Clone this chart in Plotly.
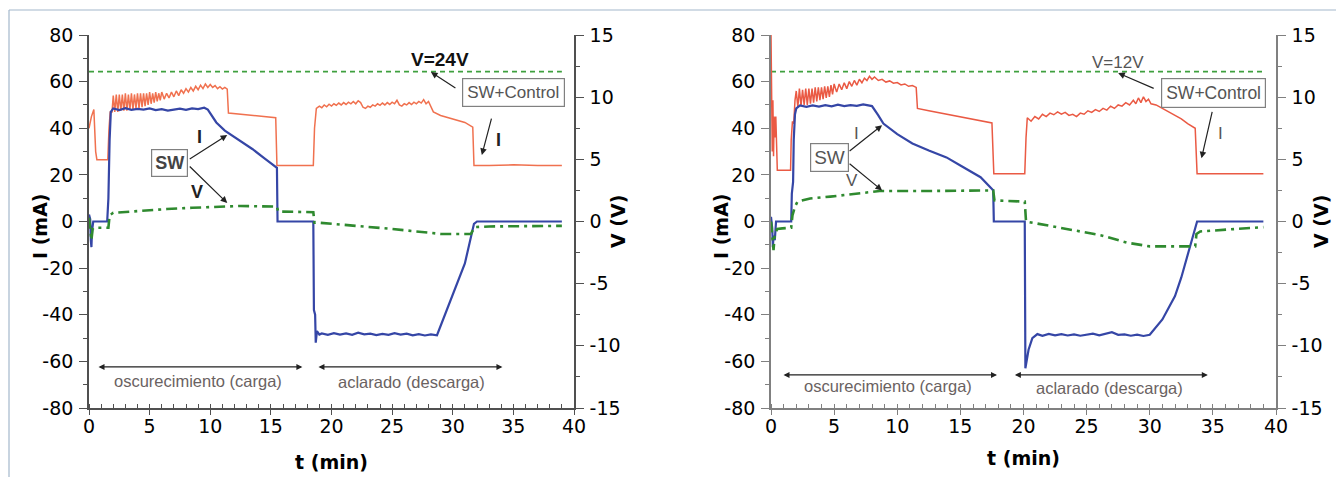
import plotly.graph_objects as go

W, H = 1336, 477

# ---------------- DATA: left panel (V=24V) ----------------
t_blue_L = [0, 0.1, 0.15, 0.2, 0.25, 0.3, 0.35, 1.5, 1.6, 1.7, 1.8,
            2.0, 2.5, 3.0, 3.5, 4.0, 4.5, 5.0, 5.5, 6.0, 6.5, 7.0, 7.5, 8.0, 8.5, 9.0, 9.5, 9.8,
            10.0, 10.5, 11.2, 12.4, 13.5, 14.5, 15.5, 15.55, 18.5, 18.55, 18.65, 18.7, 18.8, 19.0,
            19.2, 19.7, 20.2, 20.7, 21.2, 21.7, 22.2, 22.7, 23.2, 23.7, 24.2, 24.7, 25.2, 25.7,
            26.2, 26.7, 27.2, 27.7, 28.2, 28.7, 29.5, 30.3, 31.0, 31.75, 32.0, 39.0]
I_blue_L = [3, 1, -8, -11, -4, -2, 0, 0, 10, 35, 47,
            48.5, 47.8, 48.6, 47.9, 48.3, 48.0, 48.5, 47.8, 48.2, 47.6, 48.0, 48.4, 47.9, 48.5, 48.2, 48.8, 48.0,
            46.5, 42.5, 39.0, 35.0, 31.0, 27.0, 23.0, 0, 0, -38, -40, -52, -47, -48.5,
            -48.0, -48.6, -47.9, -48.5, -48.0, -48.6, -47.7, -48.4, -48.1, -48.7, -48.2, -48.6, -47.9, -48.5,
            -48.1, -48.8, -48.3, -48.9, -48.4, -48.8, -38.0, -28.0, -18.0, -1.0, 0, 0]

t_red_L = [0, 0.2, 0.4, 0.55, 0.65, 1.55, 1.65, 1.75, 1.9,
           2.0, 2.125, 2.25, 2.375, 2.5, 2.625, 2.75, 2.875, 3.0, 3.125, 3.25, 3.375, 3.5, 3.625, 3.75, 3.875,
           4.0, 4.125, 4.25, 4.375, 4.5, 4.625, 4.75, 4.875, 5.0, 5.125, 5.25, 5.375, 5.5, 5.625, 5.75, 5.875, 6.0,
           6.2, 6.4, 6.6, 6.8, 7.0, 7.2, 7.4, 7.6, 7.8, 8.0, 8.2, 8.4, 8.6, 8.8, 9.0, 9.2, 9.4, 9.6, 9.8,
           10.0, 10.2, 10.4, 10.6, 10.8, 11.0, 11.2, 11.4, 11.5, 15.4, 15.5, 18.5, 18.6, 18.75,
           19.0, 19.2, 19.4, 19.6, 19.8, 20.0, 20.2, 20.4, 20.6, 20.8, 21.0, 21.2, 21.4, 21.6, 21.8, 22.0,
           22.2, 22.4, 22.6, 22.8, 23.0, 23.2, 23.4, 23.6, 23.8, 24.0, 24.2, 24.4, 24.6, 24.8, 25.0, 25.2,
           25.4, 25.6, 25.8, 26.0, 26.2, 26.4, 26.6, 26.8, 27.0, 27.2, 27.4, 27.6, 27.8, 28.0, 28.2, 28.4,
           29.0, 30.0, 31.0, 31.65, 31.75, 33.0, 35.0, 37.0, 39.0]
I_red_L = [40, 45, 48, 30, 26.5, 26.5, 40, 47, 47,
           54, 47, 54.5, 47, 54.5, 47.5, 54.5, 47.5, 55, 47.5, 54.5, 48, 55, 48, 54.5, 48.5,
           55, 48.5, 55, 49, 55, 49.5, 55, 50, 55.5, 50.5, 55, 51, 55.5, 51.5, 55, 52, 55.5,
           52.5, 55, 53, 55.5, 53.5, 56, 54, 56.5, 55, 57, 55.5, 57.5, 56, 58, 56.5, 58.5, 57, 59, 57.5,
           58.8, 57.5, 58.3, 57, 57.8, 56.8, 57.5, 56.8, 46.5, 44.5, 24, 24, 40, 48.5,
           49.5, 48.8, 50, 49.2, 50.3, 49.5, 50.5, 49.8, 50.8, 50, 51, 50.2, 51.2, 50.5, 51.5, 50.5,
           51.8, 51, 49, 48.5, 49.5, 49, 50, 49.5, 50.5, 49.8, 50.8, 50, 51, 50.2, 51.2, 50.5,
           52, 50, 49.5, 50.5, 50, 51, 50.2, 51.2, 50.5, 51.5, 50.8, 52.3, 50.5, 51.5, 49.5, 47,
           45.5, 44, 42.5, 40.5, 24, 24, 24.3, 24, 24]

t_V_L = [0, 0.1, 0.2, 0.3, 0.4, 1.6, 1.7, 2.0, 4.0, 6.4, 8.5, 10.5, 12.5, 15.5, 15.6, 18.5, 18.6,
         19.0, 21.0, 23.0, 25.0, 27.0, 29.0, 31.5, 31.8, 33.0, 36.0, 39.0]
V_L = [0.3, -0.8, -1.5, -0.6, -0.5, -0.5, 0.5, 0.7, 0.85, 1.0, 1.1, 1.2, 1.25, 1.2, 0.8, 0.75, -0.1,
       -0.1, -0.25, -0.4, -0.6, -0.8, -1.0, -1.0, -0.45, -0.4, -0.38, -0.35]

# ---------------- DATA: right panel (V=12V) ----------------
t_blue_R = [0, 0.1, 0.15, 0.2, 0.3, 0.4, 1.6, 1.65, 1.75, 1.8, 1.9,
            2.0, 2.3, 2.8, 3.3, 3.8, 4.3, 4.8, 5.3, 5.8, 6.3, 6.8, 7.3, 7.8, 8.0,
            8.5, 8.9, 10.0, 11.2, 12.5, 13.9, 15.0, 16.6, 17.5, 17.6, 17.65, 20.1, 20.15, 20.4, 20.7,
            21.1, 21.5, 22.0, 22.5, 23.0, 23.5, 24.0, 24.5, 25.0, 25.5, 26.0, 26.5, 27.0, 27.5, 28.0,
            28.5, 29.0, 29.5, 30.0, 31.0, 32.0, 32.5, 33.0, 33.5, 33.75, 39.0]
I_blue_R = [2, -3, -11, -6, -8, 0, 0, 12, 17, 35, 46,
            48.5, 49.8, 49.2, 49.8, 49.3, 49.9, 49.4, 50.1, 49.5, 49.9, 49.6, 50.2, 49.6, 49.5,
            45.5, 42.0, 37.5, 33.5, 30.5, 27.5, 24.0, 19.0, 14.0, 13.3, 0, 0, -63, -55, -50,
            -48.3, -49.0, -48.2, -48.8, -48.3, -48.9, -48.4, -49.0, -48.6, -48.1, -48.8, -48.2, -47.5, -48.6, -48.4,
            -49.0, -48.5, -49.1, -48.6, -42.0, -32.0, -24.0, -14.0, -5.0, 0, 0]

t_red_R = [0, 0.05, 0.1, 0.15, 0.2, 0.25, 0.32, 0.38, 0.45, 0.5, 1.55, 1.6, 1.7, 1.8, 1.9,
           2.0, 2.125, 2.25, 2.375, 2.5, 2.625, 2.75, 2.875, 3.0, 3.125, 3.25, 3.375, 3.5, 3.625, 3.75, 3.875,
           4.0, 4.125, 4.25, 4.375, 4.5, 4.625, 4.75, 4.875, 5.0,
           5.2, 5.4, 5.6, 5.8, 6.0, 6.2, 6.4, 6.6, 6.8, 7.0, 7.2, 7.4, 7.6, 7.8, 8.0, 8.2,
           8.5, 8.8, 9.1, 9.4, 9.7, 10.0, 10.3, 10.6, 10.9, 11.2, 11.5, 11.6,
           12.5, 13.5, 14.5, 15.5, 16.5, 17.5, 17.65, 20.1, 20.2, 20.3,
           20.6, 20.9, 21.2, 21.5, 21.8, 22.1, 22.4, 22.7, 23.0, 23.3, 23.6, 23.9, 24.2, 24.5, 24.8, 25.1,
           25.4, 25.7, 26.0, 26.3, 26.6, 26.9, 27.2, 27.5, 27.8, 28.1, 28.4, 28.7, 28.9, 29.1, 29.3, 29.5,
           29.7, 29.9, 30.1, 30.5, 31.0, 31.5, 32.0, 32.5, 33.0, 33.6, 33.75, 39.0]
I_red_R = [80, 60, 30, 52, 28, 45, 36, 45, 30, 22, 22, 35, 43, 42, 52,
           56, 49, 57, 49.5, 56.5, 50, 57, 50, 57, 50.5, 57, 51, 57.5, 51.5, 57.5, 52,
           57.5, 52.5, 58, 53, 58, 53.5, 58.5, 54.5, 59,
           55.5, 59, 56.5, 59.5, 57, 60, 58, 60.5, 58.5, 61, 59.5, 61.5, 60.5, 62.3, 61, 62,
           60.5, 61, 59.8, 60.3, 59.3, 59.6, 58.6, 59, 58, 58.3, 57.5, 48.5,
           47.5, 46.5, 45.5, 44.5, 43.5, 42.3, 20.5, 20.5, 36, 44.5,
           43, 45, 44, 46, 45, 46.5, 45.8, 47, 46, 46.8, 45.5, 46, 45, 46.5, 46, 47.5,
           46.8, 48, 47.2, 48.5, 47.8, 49.5, 48.5, 50, 49.5, 51, 50, 52, 50.5, 53, 51, 53.5,
           51.5, 52.5, 50.5, 50, 48.5, 47, 45.5, 44, 42, 40, 20.5, 20.5]

t_V_R = [0, 0.1, 0.2, 0.3, 0.5, 0.9, 1.6, 1.7, 1.9, 2.1, 3.1, 4.7, 6.5, 8.6, 12.0, 15.0, 17.5, 17.6,
         17.7, 20.1, 20.2, 22.9, 26.1, 28.2, 30.0, 33.6, 33.7, 34.0, 36.0, 39.0]
V_R = [0, -1.5, -2.3, -1.0, -0.6, -0.55, -0.5, 0.5, 1.2, 1.6, 1.85, 2.0, 2.2, 2.45, 2.45, 2.45, 2.5, 2.5,
       1.7, 1.6, 0, -0.5, -1.1, -1.7, -2.0, -2.0, -1.0, -0.8, -0.65, -0.45]

# supply-voltage reference line (drawn at I-axis level)
t_supply = [0, 39]
I_supply = [64.3, 64.3]

x_ticks = [0, 5, 10, 15, 20, 25, 30, 35, 40]
x_ticktext = ["0", "5", "10", "15", "20", "25", "30", "35", "40"]
I_ticks = [-80, -60, -40, -20, 0, 20, 40, 60, 80]
I_ticktext = ["-80", "-60", "-40", "-20", "0", "20", "40", "60", "80"]
V_ticks = [-15, -10, -5, 0, 5, 10, 15]
V_ticktext = ["-15", "-10", "-5", "0", "5", "10", "15"]

# ---------------- STYLE ----------------
BLUE = "#3546a6"
RED_L = "#f0714f"
RED_R = "#ea5a44"
GREEN = "#2f8a2f"
GREEN_D = "#3fa03f"
TICKFONT = dict(family="DejaVu Sans", size=19, color="black")
ANN_FONT = "Liberation Sans"

def px(x):
    return x / W

def py(y):
    return 1 - y / H

fig = go.Figure()

panels = [
    dict(x="x", y="y", yv="y2", dom=[px(89), px(574)], red=RED_L,
         tb=t_blue_L, ib=I_blue_L, tr=t_red_L, ir=I_red_L, tv=t_V_L, vv=V_L),
    dict(x="x2", y="y3", yv="y4", dom=[px(771), px(1276)], red=RED_R,
         tb=t_blue_R, ib=I_blue_R, tr=t_red_R, ir=I_red_R, tv=t_V_R, vv=V_R),
]

for p in panels:
    fig.add_trace(go.Scatter(x=t_supply, y=I_supply, xaxis=p["x"], yaxis=p["y"], mode="lines",
                             line=dict(color=GREEN_D, width=1.6, dash="5px,4px"), showlegend=False))
    fig.add_trace(go.Scatter(x=p["tr"], y=p["ir"], xaxis=p["x"], yaxis=p["y"], mode="lines",
                             line=dict(color=p["red"], width=1.5), showlegend=False))
    fig.add_trace(go.Scatter(x=p["tv"], y=p["vv"], xaxis=p["x"], yaxis=p["yv"], mode="lines",
                             line=dict(color=GREEN, width=2.6, dash="11px,5px,3px,5px"), showlegend=False))
    fig.add_trace(go.Scatter(x=p["tb"], y=p["ib"], xaxis=p["x"], yaxis=p["y"], mode="lines",
                             line=dict(color=BLUE, width=2.2), showlegend=False))

ydom = [py(408), py(35)]

def xaxis_cfg(dom, anchor, lc):
    return dict(domain=dom, anchor=anchor, range=[0, 40], tickvals=x_ticks, ticktext=x_ticktext,
                ticks="outside", ticklen=5, tickcolor=lc, showline=True, linecolor=lc, linewidth=1.6,
                showgrid=False, zeroline=False, tickfont=TICKFONT, automargin=False,
                ticklabelstandoff=-5,
                minor=dict(dtick=1, ticks="inside", ticklen=4, tickcolor=lc, showgrid=False))

def top_cfg(over, anchor, lc):
    return dict(overlaying=over, anchor=anchor, side="top", range=[0, 40], showticklabels=False,
                ticks="inside", tickvals=x_ticks, ticklen=6, tickcolor=lc, showline=True,
                linecolor=lc, linewidth=1.6, showgrid=False, zeroline=False, automargin=False,
                minor=dict(dtick=1, ticks="inside", ticklen=4, tickcolor=lc, showgrid=False))

def iaxis_cfg(anchor, lc):
    return dict(domain=ydom, anchor=anchor, range=[-80, 80], tickvals=I_ticks, ticktext=I_ticktext,
                ticks="outside", ticklen=8, tickcolor=lc, showline=True, linecolor=lc, linewidth=1.6,
                showgrid=False, zeroline=False, tickfont=TICKFONT, ticklabelstandoff=2,
                automargin=False,
                minor=dict(dtick=10, ticks="outside", ticklen=4, tickcolor=lc, showgrid=False))

def vaxis_cfg(over, anchor, lc):
    return dict(overlaying=over, anchor=anchor, side="right", range=[-15, 15], tickvals=V_ticks,
                ticktext=V_ticktext, ticks="outside", ticklen=8, tickcolor=lc, showline=True,
                linecolor=lc, linewidth=1.6, showgrid=False, zeroline=False, tickfont=TICKFONT,
                ticklabelstandoff=2, automargin=False,
                minor=dict(dtick=2.5, ticks="outside", ticklen=4, tickcolor=lc, showgrid=False))

LC_L = "#505050"
LC_R = "#808080"

fig.update_layout(
    width=W, height=H, autosize=False,
    margin=dict(l=0, r=0, t=0, b=0, pad=0, autoexpand=False),
    paper_bgcolor="white", plot_bgcolor="white",
    xaxis=xaxis_cfg(panels[0]["dom"], "y", LC_L),
    xaxis2=xaxis_cfg(panels[1]["dom"], "y3", LC_R),
    xaxis3=top_cfg("x", "y", LC_L),
    xaxis4=top_cfg("x2", "y3", LC_R),
    yaxis=iaxis_cfg("x", LC_L),
    yaxis2=vaxis_cfg("y", "x", LC_L),
    yaxis3=iaxis_cfg("x2", LC_R),
    yaxis4=vaxis_cfg("y3", "x2", LC_R),
)

# frame lines around the figure
fig.add_shape(type="line", xref="paper", yref="paper", x0=px(9), x1=1, y0=py(10), y1=py(10),
              line=dict(color="#a3b7cb", width=1.2))
fig.add_shape(type="line", xref="paper", yref="paper", x0=px(9), x1=px(9), y0=0, y1=py(10),
              line=dict(color="#a3b7cb", width=1.2))

ann = []
TITLE_FONT = dict(family="DejaVu Sans", size=19, color="black")
for xt, xv, xb, yb in [(40, 618, 331, 462), (721, 1321, 1023, 458)]:
    ann.append(dict(text="<b>I (mA)</b>", xref="paper", yref="paper", x=px(xt), y=py(226),
                    xanchor="center", yanchor="middle",
                    textangle=-90, showarrow=False, font=TITLE_FONT))
    ann.append(dict(text="<b>V (V)</b>", xref="paper", yref="paper", x=px(xv), y=py(222),
                    xanchor="center", yanchor="middle",
                    textangle=-90, showarrow=False, font=TITLE_FONT))
    ann.append(dict(text="<b>t (min)</b>", xref="paper", yref="paper", x=px(xb), y=py(yb),
                    xanchor="center", yanchor="middle", showarrow=False, font=TITLE_FONT))

ARROW = dict(showarrow=True, arrowhead=2, arrowsize=1.1, arrowwidth=1.2, arrowcolor="#222222")
GREY_TXT = "#6a6262"

def arrow(xr, yr, x, y, ax, ay, **kw):
    d = dict(text="", xref=xr, yref=yr, x=x, y=y, ax=ax, ay=ay, axref="pixel", ayref="pixel")
    d.update(ARROW)
    d.update(kw)
    return d

def darrow(xr, yr, x0, x1, y):
    d = dict(text="", xref=xr, yref=yr, x=x1, y=y, ax=x0, ay=y, axref=xr, ayref=yr,
             arrowside="end+start")
    d.update(ARROW)
    d["arrowsize"] = 1.0
    return d

# ---- left panel annotations
ann += [
    dict(text="<b>V=24V</b>", xref="x", yref="y", x=28.95, y=69.3, showarrow=False,
         font=dict(family=ANN_FONT, size=19, color="#111111")),
    dict(text="SW+Control", xref="x", yref="y", x=35.05, y=55.3, showarrow=False,
         font=dict(family=ANN_FONT, size=17, color="#555555"), bgcolor="white",
         bordercolor="#808080", borderwidth=1.2, borderpad=4),
    arrow("x", "y", 28.2, 64.1, 26, 17),
    arrow("x", "y", 32.4, 28.5, 10, -38),
    dict(text="<b>I</b>", xref="x", yref="y", x=33.8, y=35, showarrow=False,
         font=dict(family=ANN_FONT, size=18, color="#222222")),
    arrow("x", "y", 11.4, 37.1, -39, 25),
    arrow("x", "y", 11.4, 7.9, -39, -38),
    dict(text="<b>SW</b>", xref="x", yref="y", x=6.6, y=25.3, showarrow=False,
         font=dict(family=ANN_FONT, size=18, color="#444444"), bgcolor="white",
         bordercolor="#808080", borderwidth=1.2, borderpad=3),
    dict(text="<b>I</b>", xref="x", yref="y", x=9.1, y=36.2, showarrow=False,
         font=dict(family=ANN_FONT, size=18, color="#222222")),
    dict(text="<b>V</b>", xref="x", yref="y", x=8.9, y=12.6, showarrow=False,
         font=dict(family=ANN_FONT, size=18, color="#222222")),
    darrow("x", "y", 0.66, 17.6, -62.4),
    darrow("x", "y", 18.8, 34.1, -62.4),
    dict(text="oscurecimiento (carga)", xref="x", yref="y", x=9.0, y=-68.3, showarrow=False,
         font=dict(family=ANN_FONT, size=16.5, color=GREY_TXT)),
    dict(text="aclarado (descarga)", xref="x", yref="y", x=26.6, y=-68.9, showarrow=False,
         font=dict(family=ANN_FONT, size=16.5, color=GREY_TXT)),
]

# ---- right panel annotations
ann += [
    dict(text="V=12V", xref="x2", yref="y3", x=27.48, y=68.4, showarrow=False,
         font=dict(family=ANN_FONT, size=17, color="#555555")),
    dict(text="SW+Control", xref="x2", yref="y3", x=35.05, y=55.3, showarrow=False,
         font=dict(family=ANN_FONT, size=17.5, color="#555555"), bgcolor="white",
         bordercolor="#808080", borderwidth=1.2, borderpad=4),
    arrow("x2", "y3", 27.5, 63.7, 37, 16),
    arrow("x2", "y3", 34.1, 27.1, 11, -48),
    dict(text="I", xref="x2", yref="y3", x=35.6, y=37.8, showarrow=False,
         font=dict(family=ANN_FONT, size=17, color="#555555")),
    arrow("x2", "y3", 8.8, 41.3, -34, 27),
    arrow("x2", "y3", 8.8, 13.3, -34, -28),
    dict(text="SW", xref="x2", yref="y3", x=4.6, y=27.5, showarrow=False,
         font=dict(family=ANN_FONT, size=19, color="#555555"), bgcolor="white",
         bordercolor="#808080", borderwidth=1.2, borderpad=3),
    dict(text="I", xref="x2", yref="y3", x=6.8, y=37.8, showarrow=False,
         font=dict(family=ANN_FONT, size=17, color="#555555")),
    dict(text="V", xref="x2", yref="y3", x=6.4, y=17.6, showarrow=False,
         font=dict(family=ANN_FONT, size=17, color="#555555")),
    darrow("x2", "y3", 0.87, 17.9, -65.8),
    darrow("x2", "y3", 19.2, 34.6, -65.8),
    dict(text="oscurecimiento (carga)", xref="x2", yref="y3", x=9.27, y=-70.5, showarrow=False,
         font=dict(family=ANN_FONT, size=16.5, color=GREY_TXT)),
    dict(text="aclarado (descarga)", xref="x2", yref="y3", x=26.85, y=-71.4, showarrow=False,
         font=dict(family=ANN_FONT, size=16.5, color=GREY_TXT)),
]

fig.update_layout(annotations=ann)
fig.write_html("out.html")
